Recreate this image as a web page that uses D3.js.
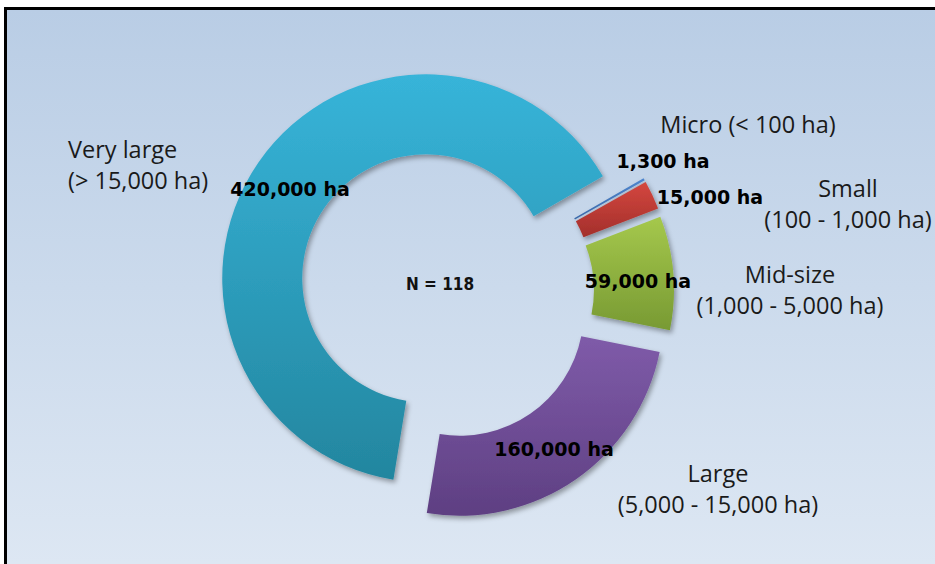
<!DOCTYPE html>
<html>
<head>
<meta charset="utf-8">
<script src="https://cdn.jsdelivr.net/npm/d3@7"></script>
<style>
  body { margin: 0; background: #ffffff; }
  .cls { font-family: "Open Sans", sans-serif; font-size: 23.5px; fill: #1a1a1a; }
  .val { font-family: "DejaVu Sans", sans-serif; font-weight: bold; font-size: 19px; fill: #000; }
  .note { font-family: "DejaVu Sans Condensed", "DejaVu Sans", sans-serif; font-weight: bold; font-size: 17px; fill: #111; }
</style>
</head>
<body>
<div id="chart"></div>
<script>
// farm size classes, in drawing order (clockwise from the first slice)
var categories = ["Micro", "Small", "Mid-size", "Large", "Very large"];
var areas = [1300, 15000, 59000, 160000, 420000];
var classLines = [
    ["Micro (< 100 ha)"],
    ["Small", "(100 - 1,000 ha)"],
    ["Mid-size", "(1,000 - 5,000 ha)"],
    ["Large", "(5,000 - 15,000 ha)"],
    ["Very large", "(> 15,000 ha)"]
];
var sampleNote = "N = 118";

var svgWidth = 935;
var svgHeight = 564;

// office-style colours: top / bottom of each slice gradient
var colors = [
    ["#4f86cf", "#3a69a8"],
    ["#d4473f", "#a32f2b"],
    ["#a5c84c", "#789a33"],
    ["#7f5ba9", "#5e3f82"],
    ["#37b4d9", "#23869f"]
];

var center = {x: 446, y: 292};
var outerR = 204;
var innerR = 124;
var explode = 24;
var firstAngle = 60 * Math.PI / 180;

// label placement relative to the doughnut centre
var valuePos = [[217, -124], [264, -88], [192, -4], [108, 164], [-156, -96]];
var classPos = [[302, -159, "middle"], [402, -95, "middle"], [344, -9, "middle"], [272, 190, "middle"], [-378, -134, "start"]];
var lineGap = 31;

var svg = d3.select("#chart")
    .append("svg")
    .attr("width", svgWidth)
    .attr("height", svgHeight);

var defs = svg.append("defs");

var bg = defs.append("linearGradient")
    .attr("id", "bg")
    .attr("gradientUnits", "userSpaceOnUse")
    .attr("x1", 0).attr("y1", 10)
    .attr("x2", 0).attr("y2", svgHeight);
bg.append("stop").attr("offset", 0).attr("stop-color", "#b9cde5");
bg.append("stop").attr("offset", 1).attr("stop-color", "#dde7f3");

colors.forEach(function(c, i) {
    var g = defs.append("linearGradient")
        .attr("id", "slice" + i)
        .attr("x1", 0).attr("y1", 0)
        .attr("x2", 0).attr("y2", 1);
    g.append("stop").attr("offset", 0).attr("stop-color", c[0]);
    g.append("stop").attr("offset", 1).attr("stop-color", c[1]);
});

var shadow = defs.append("filter")
    .attr("id", "shadow")
    .attr("x", "-20%").attr("y", "-20%")
    .attr("width", "140%").attr("height", "140%");
shadow.append("feDropShadow")
    .attr("dx", 2).attr("dy", 3)
    .attr("stdDeviation", 2.5)
    .attr("flood-color", "#000")
    .attr("flood-opacity", 0.35);

// chart area with its frame
svg.append("rect")
    .attr("x", 5.5)
    .attr("y", 8.5)
    .attr("width", svgWidth + 20)
    .attr("height", svgHeight + 20)
    .attr("fill", "url(#bg)")
    .attr("stroke", "#000")
    .attr("stroke-width", 3);

var pie = d3.pie()
    .sort(null)
    .value(d => d)
    .startAngle(firstAngle)
    .endAngle(firstAngle + 2 * Math.PI);

var arc = d3.arc()
    .innerRadius(innerR)
    .outerRadius(outerR);

var slices = pie(areas);

var chartGroup = svg.append("g")
    .attr("transform", `translate(${center.x}, ${center.y})`);

chartGroup.selectAll("path.slice")
    .data(slices)
    .enter()
    .append("path")
    .attr("class", "slice")
    .attr("d", arc)
    .attr("fill", (d, i) => `url(#slice${i})`)
    .attr("filter", "url(#shadow)")
    .attr("transform", function(d) {
        var mid = (d.startAngle + d.endAngle) / 2;
        return `translate(${explode * Math.sin(mid)}, ${-explode * Math.cos(mid)})`;
    });

// value labels
var fmt = d3.format(",");
chartGroup.selectAll("text.val")
    .data(slices)
    .enter()
    .append("text")
    .attr("class", "val")
    .attr("x", (d, i) => valuePos[i][0])
    .attr("y", (d, i) => valuePos[i][1])
    .attr("text-anchor", "middle")
    .text(d => fmt(d.value) + " ha");

// class labels
categories.forEach(function(c, i) {
    var t = chartGroup.append("text")
        .attr("class", "cls")
        .attr("text-anchor", classPos[i][2]);
    classLines[i].forEach(function(line, j) {
        t.append("tspan")
            .attr("x", classPos[i][0])
            .attr("y", classPos[i][1] + j * lineGap)
            .text(line);
    });
});

chartGroup.append("text")
    .attr("class", "note")
    .attr("x", -6)
    .attr("y", -2)
    .attr("text-anchor", "middle")
    .text(sampleNote);
</script>
</body>
</html>
